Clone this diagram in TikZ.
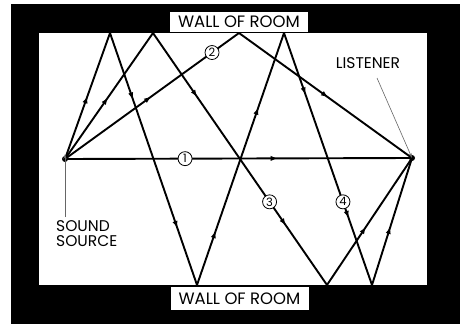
\documentclass[tikz,border=0pt]{standalone}
\usepackage{fontspec}
\setmainfont{Poppins}
\usetikzlibrary{arrows.meta,decorations.markings}

\begin{document}
\begin{tikzpicture}[
    x=1pt, y=-1pt,
    ray/.style={line width=1.9pt, line cap=round},
    midtip/.style={postaction={decorate,decoration={markings,
        mark=at position #1 with {\arrow{Triangle[length=6pt,width=4.5pt]}}}}},
    circnum/.style={circle, draw, line width=0.8pt, fill=white, inner sep=0pt,
        minimum size=14pt, font=\fontsize{11.5}{11.5}\selectfont},
    wallbox/.style={fill=white, minimum width=138pt, minimum height=20pt,
        inner sep=0pt, font=\fontsize{16.5}{16.5}\selectfont},
    labeltext/.style={inner sep=0pt, align=left, font=\fontsize{15.5}{15}\selectfont},
    pointer/.style={line width=0.6pt, draw=black!60, -{Stealth[length=5pt,width=3pt]}}
  ]

  % ---------- frame (walls) ----------
  \useasboundingbox (0,0) rectangle (460,324);
  \fill[black] (11,4) rectangle (460,324);
  \fill[white] (39,33) rectangle (427,285);
  \node[wallbox] (topwall) at (239,22) {WALL OF ROOM};
  \node[wallbox, minimum height=23pt] (botwall) at (239.5,298.5) {WALL OF ROOM};

  % ---------- key points ----------
  \coordinate (S) at (65,159);    % sound source
  \coordinate (L) at (412,158);   % listener
  % reflections on the upper wall
  \coordinate (A1) at (110,33);
  \coordinate (A2) at (153,33);
  \coordinate (A3) at (239,33);
  \coordinate (A4) at (284,33);
  % reflections on the lower wall
  \coordinate (B1) at (197,285);
  \coordinate (B2) at (327,285);
  \coordinate (B3) at (372,285);

  % ---------- path 1 (direct) ----------
  \draw[ray, midtip=0.61] (S) -- (L)
    node[circnum, pos=0.346] (n1) {1};

  % ---------- path 2 ----------
  \draw[ray, midtip=0.49] (S) -- (A3)
    node[circnum, pos=0.845] (n2) {2};
  \draw[ray, midtip=0.51] (A3) -- (L);

  % ---------- path 3 ----------
  \draw[ray, midtip=0.48] (S) -- (A2);
  \draw[ray, midtip=0.25, midtip=0.76] (A2) -- (B2)
    node[circnum, pos=0.67] (n3) {3};
  \draw[ray, midtip=0.45] (B2) -- (L);

  % ---------- path 4 ----------
  \draw[ray, midtip=0.49] (S) -- (A1);
  \draw[ray, midtip=0.26, midtip=0.77] (A1) -- (B1);
  \draw[ray, midtip=0.21, midtip=0.70] (B1) -- (A4);
  \draw[ray, midtip=0.24, midtip=0.73] (A4) -- (B3)
    node[circnum, pos=0.67] (n4) {4};
  \draw[ray, midtip=0.45] (B3) -- (L);

  % source and listener
  \fill (S) circle (3);
  \fill (L) circle (3);

  % ---------- labels ----------
  \node[labeltext] (listener) at (368,63) {LISTENER};
  \coordinate (lp) at (377,78);
  \draw[pointer] (lp) -- (L);

  \node[labeltext, anchor=west] (source) at (56,234) {SOUND\\SOURCE};
  \coordinate (sp) at (65,217);
  \draw[pointer] (sp) -- ([yshift=5pt]S);

\end{tikzpicture}
\end{document}
